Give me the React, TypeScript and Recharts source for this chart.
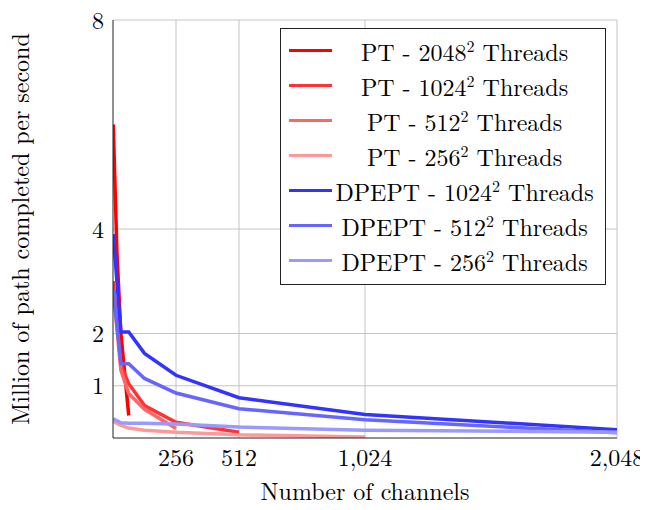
import React from "react";
import { CartesianGrid, Line, LineChart, XAxis, YAxis } from "recharts";

const FONT = "'Latin Modern Roman', 'Liberation Serif', serif";
const FS = 24;

const xTicks = [256, 512, 1024, 2048];
const yTicks = [1, 2, 4, 8];

// PT series (each one stops where memory ran out)
const channelsPT2048 = [1, 16, 32, 64];
const pt2048 = [6.0, 3.55, 2.0, 0.43];
const channelsPT1024 = [1, 32, 64, 128, 256, 512];
const pt1024 = [3.0, 1.4, 1.04, 0.62, 0.3, 0.11];
const channelsPT512 = [1, 32, 64, 128, 256];
const pt512 = [2.85, 1.3, 0.85, 0.55, 0.18];
const channelsPT256 = [1, 32, 64, 128, 256, 512, 1024];
const pt256 = [0.32, 0.24, 0.19, 0.15, 0.11, 0.06, 0.02];

// DPEPT series
const channelsDP = [1, 32, 64, 128, 256, 512, 1024, 2048];
const dp1024 = [3.9, 2.03, 2.03, 1.62, 1.2, 0.77, 0.45, 0.16];
const dp512 = [2.85, 1.42, 1.42, 1.14, 0.86, 0.56, 0.35, 0.1];
const dp256 = [0.37, 0.29, 0.28, 0.28, 0.27, 0.21, 0.15, 0.11];

const zip = (xs: number[], ys: number[]) => xs.map((x, i) => ({ x, y: ys[i] }));

const series = [
  { name: "PT - ", n: "2048", color: "#ff0000", data: zip(channelsPT2048, pt2048) },
  { name: "PT - ", n: "1024", color: "#ff3333", data: zip(channelsPT1024, pt1024) },
  { name: "PT - ", n: "512", color: "#ff6666", data: zip(channelsPT512, pt512) },
  { name: "PT - ", n: "256", color: "#ff9999", data: zip(channelsPT256, pt256) },
  { name: "DPEPT - ", n: "1024", color: "#3333ff", data: zip(channelsDP, dp1024) },
  { name: "DPEPT - ", n: "512", color: "#6666ff", data: zip(channelsDP, dp512) },
  { name: "DPEPT - ", n: "256", color: "#9999ff", data: zip(channelsDP, dp256) },
];

function LegendBox() {
  return (
    <div
      style={{
        position: "absolute",
        left: 280,
        top: 28,
        border: "1px solid #222",
        background: "#fff",
        width: 326,
        height: 257,
        paddingTop: 4,
        boxSizing: "border-box",
        fontFamily: FONT,
        fontSize: FS,
        color: "#000",
      }}
    >
      {series.map((s) => (
        <div key={s.name + s.n} style={{ display: "flex", alignItems: "center", height: 35 }}>
          <div style={{ width: 43, height: 3, background: s.color, marginLeft: 8 }} />
          <div style={{ flex: 1, textAlign: "center", paddingRight: 8, whiteSpace: "nowrap" }}>
            {s.name}
            {s.n}
            <sup style={{ fontSize: 16, verticalAlign: "9px", lineHeight: 0 }}>2</sup> Threads
          </div>
        </div>
      ))}
    </div>
  );
}

export default function App() {
  return (
    <div style={{ position: "relative", width: 648, height: 510, margin: -8 }}>
      <LineChart width={648} height={510} margin={{ top: 20, right: 31, bottom: 12, left: 53 }}>
        <CartesianGrid stroke="#c4c4c4" strokeWidth={1} horizontalValues={yTicks} verticalValues={xTicks} />
        <XAxis
          dataKey="x"
          type="number"
          domain={[0, 2048]}
          ticks={xTicks}
          allowDataOverflow
          tickFormatter={(v) => v.toLocaleString("en-US")}
          tickLine={false}
          axisLine={{ stroke: "#222" }}
          height={60}
          tickMargin={5}
          tick={{ fill: "#000", fontFamily: FONT, fontSize: FS }}
          label={{ value: "Number of channels", position: "insideBottom", offset: -2, fill: "#000", fontFamily: FONT, fontSize: FS }}
        />
        <XAxis xAxisId="top" orientation="top" type="number" domain={[0, 2048]} tick={false} tickLine={false} height={0} axisLine={{ stroke: "#222" }} />
        <YAxis
          type="number"
          domain={[0, 8]}
          ticks={yTicks}
          allowDataOverflow
          tickLine={false}
          axisLine={{ stroke: "#222" }}
          width={60}
          tickMargin={3}
          tick={{ fill: "#000", fontFamily: FONT, fontSize: FS }}
          label={{
            value: "Million of path completed per second",
            angle: -90,
            position: "insideLeft",
            offset: -33,
            style: { textAnchor: "middle" },
            fill: "#000",
            fontFamily: FONT,
            fontSize: FS,
          }}
        />
        <YAxis yAxisId="right" orientation="right" type="number" domain={[0, 8]} tick={false} tickLine={false} width={0} axisLine={{ stroke: "#222" }} />
        {series.map((s) => (
          <Line
            key={s.name + s.n}
            data={s.data}
            dataKey="y"
            name={s.name + s.n}
            stroke={s.color}
            strokeWidth={3.5}
            dot={false}
            isAnimationActive={false}
          />
        ))}
      </LineChart>
      <LegendBox />
    </div>
  );
}
